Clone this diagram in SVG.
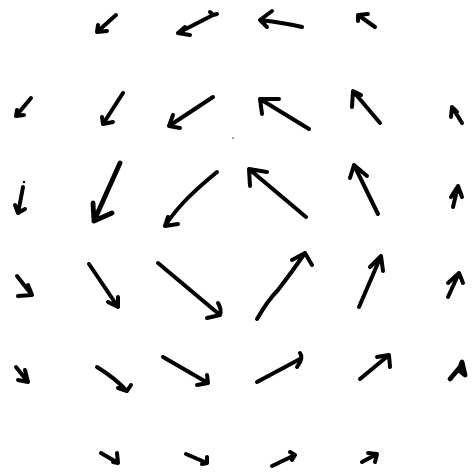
<svg xmlns="http://www.w3.org/2000/svg" width="475" height="472" viewBox="0 0 475 472">
<style>
.a path{fill:none;stroke:#000;stroke-width:4;stroke-linecap:round;stroke-linejoin:round}
.b path{stroke-width:4.8}
</style>
<rect width="475" height="472" fill="#fff"/>
<g id="field" class="a">
<g id="r1c2"><path d="M116,15 L97,32 M98,25 L97,32 L107,31"/></g>
<g id="r1c3"><path d="M213,15 L178,33 M185,27 L178,33 L190,35 M210,12 L213,15 L217,14"/></g>
<g id="r1c4"><path d="M302,27 Q285,23 260,20 M272,11 L260,20 L267,27"/></g>
<g id="r1c5"><path d="M375,27 L358,15 M368,14 L358,15 L358,21"/></g>

<g id="r2c1"><path d="M31,98 L16,116 M17,110 L16,116 L24,115"/></g>
<g id="r2c2"><path d="M123,93 L103,124 M102,117 L103,124 L113,122"/></g>
<g id="r2c3"><path d="M213,97 L169,126 M173,115 L169,126 L180,128"/></g>
<g id="r2c4"><path d="M309,129 L260,99 M279,99 L260,99 L262,114"/></g>
<g id="r2c5"><path d="M380,123 L353,91 M352,107 L353,91 L361,95"/></g>
<g id="r2c6"><path d="M462,123 L452,107 M451,117 L452,107 L457,112"/></g>
<circle cx="233" cy="138" r="0.7" fill="#000"/>

<g id="r3c1"><circle cx="24" cy="182" r="1.2" fill="#000"/><path d="M23,187 Q21,198 18,213 M15,205 L18,213 L25,209"/></g>
<g id="r3c2" class="b"><path d="M120,163 L94,221 M93,203 L94,221 L112,213"/></g>
<g id="r3c3"><path d="M217,172 Q195,190 183,203 Q172,215 165,226 M168,217 L165,226 L178,224"/></g>
<g id="r3c4"><path d="M306,217 L249,169 M267,172 L249,169 L250,186"/></g>
<g id="r3c5"><path d="M378,214 L354,165 M350,178 L354,165 L367,176"/></g>
<g id="r3c6"><path d="M453,207 L458,186 M451,197 L458,186 L462,197"/></g>

<g id="r4c1"><path d="M17,276 L32,295 M28,285 L32,295 L18,296"/></g>
<g id="r4c2"><path d="M89,264 L118,307 M118,297 L118,307 L108,302"/></g>
<g id="r4c3"><path d="M158,263 L220,315 M218,303 Q222,310 220,315 L207,318"/></g>
<g id="r4c4"><path d="M257,319 Q268,300 278,290 Q292,272 305,253 M292,260 L305,253 L312,265"/></g>
<g id="r4c5"><path d="M359,307 L381,256 M370,267 L381,256 L383,271"/></g>
<g id="r4c6"><path d="M448,297 L459,273 M448,283 L459,273 L463,283"/></g>

<g id="r5c1"><path d="M16,367 L28,382 M25,370 L28,382 L18,380"/></g>
<g id="r5c2"><path d="M97,367 Q115,378 127,391 M131,385 L127,391 L118,388"/></g>
<g id="r5c3"><path d="M163,357 L208,383 M207,375 L208,383 L197,385"/></g>
<g id="r5c4"><path d="M257,382 L300,359 M300,353 Q304,358 297,367"/></g>
<g id="r5c5"><path d="M360,379 L389,355 M377,357 L389,355 L390,367"/></g>
<g id="r5c6" class="b"><path d="M450,379 L461,366 M459,370 L462,362 L465,375 Z" fill="#000"/></g>

<g id="r6c2"><path d="M101,453 L118,463 M117,453 L118,463 L113,462"/></g>
<g id="r6c3"><path d="M186,454 L207,463 M207,457 L207,463 L202,464"/></g>
<g id="r6c4"><path d="M272,466 L295,455 M290,452 L295,455 L292,460"/></g>
<g id="r6c5"><path d="M362,462 L377,454 M368,453 L377,454 L375,462"/></g>
</g>
</svg>
